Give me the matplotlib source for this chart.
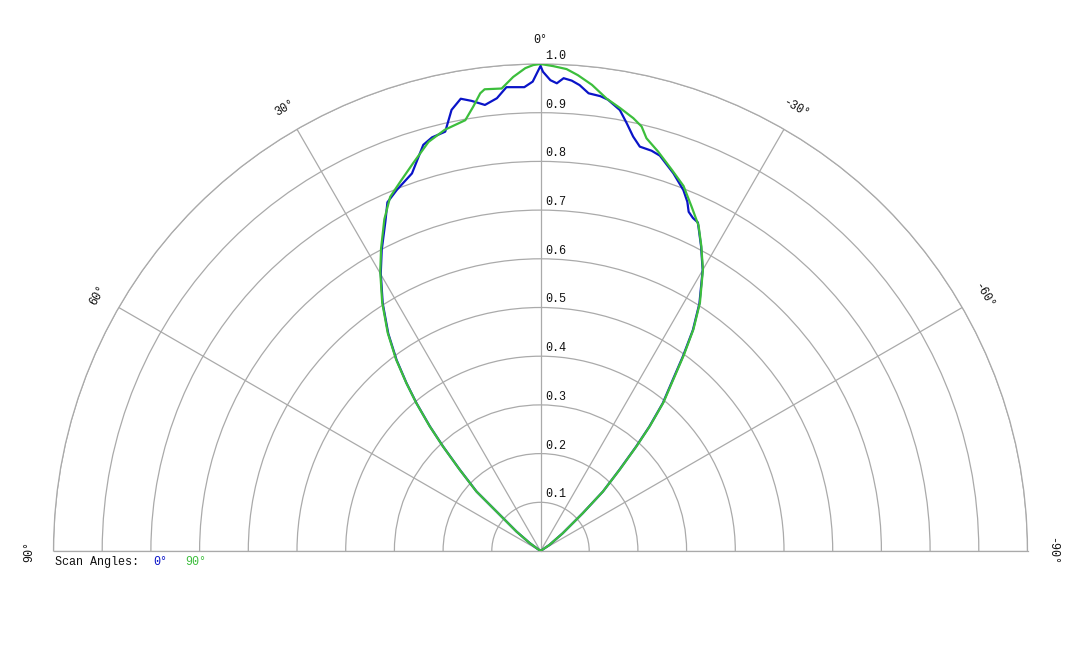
import numpy as np
import matplotlib
matplotlib.use("Agg")
import matplotlib.pyplot as plt

# scan angle 0 deg (blue) - angle in degrees, relative intensity
blue_theta = [-62, -58, -55.7, -51.4, -48.2, -46.4, -44.2, -42.5, -41.2, -39.6, -37.7, -36.2,
              -34.6, -32.7, -30.0, -27.8, -25.6, -24.6, -23.6, -22.8, -21.6, -19.4, -16.8,
              -15.5, -13.8, -12.6, -11.4, -10.2, -8.5, -7.5, -6.0, -4.8, -3.8, -2.8, -2.0,
              -1.2, -0.3, 0.0,
              0.95, 2.0, 4.2, 5.5, 7.1, 8.7, 10.0, 11.4, 12.8, 14.7, 16.1, 18.8, 21.7,
              23.7, 25.2, 27.8, 29.9, 32.5, 35.0, 37.0, 38.6, 40.0, 41.6, 43.0, 44.8,
              47.1, 48.1, 51.0, 53.7, 56.5, 62]
blue_r = [0.0, 0.0, 0.022, 0.058, 0.116, 0.177, 0.232, 0.290, 0.339, 0.394, 0.444, 0.495,
          0.551, 0.604, 0.666, 0.707, 0.748, 0.752, 0.760, 0.778, 0.797, 0.822, 0.848,
          0.853, 0.855, 0.872, 0.896, 0.920, 0.937, 0.942, 0.945, 0.960, 0.968, 0.972,
          0.961, 0.967, 0.984, 0.996,
          0.964, 0.953, 0.955, 0.934, 0.923, 0.935, 0.943, 0.924, 0.883, 0.878, 0.868,
          0.819, 0.798, 0.782, 0.748, 0.699, 0.658, 0.603, 0.545, 0.491, 0.441, 0.396,
          0.342, 0.293, 0.235, 0.179, 0.121, 0.063, 0.027, 0.0, 0.0]

# scan angle 90 deg (green)
green_theta = [-62, -58, -55.7, -51.4, -48.2, -46.4, -44.2, -42.5, -41.2, -39.6, -37.7, -36.2,
               -34.6, -32.7, -30.0, -27.8, -25.9, -23.7, -21.4, -19.0, -16.4, -14.4, -13.4,
               -12.1, -10.2, -8.3, -6.3, -4.5, -3.1, -1.5, 0.0,
               0.85, 1.8, 3.3, 4.8, 6.9, 7.5, 8.6, 9.9, 12.8, 15.3, 18.2, 20.8, 23.0,
               25.2, 27.8, 29.9, 32.5, 35.0, 37.0, 38.6, 40.0, 41.6, 43.0, 44.8,
               47.1, 48.1, 51.0, 53.7, 56.5, 62]
green_r = [0.0, 0.0, 0.022, 0.058, 0.116, 0.177, 0.234, 0.292, 0.341, 0.396, 0.447, 0.498,
           0.553, 0.606, 0.667, 0.708, 0.743, 0.772, 0.805, 0.828, 0.855, 0.875, 0.896,
           0.909, 0.924, 0.939, 0.963, 0.980, 0.991, 0.996, 1.0,
           0.998, 0.992, 0.975, 0.953, 0.955, 0.948, 0.923, 0.898, 0.887, 0.871, 0.838,
           0.811, 0.790, 0.753, 0.702, 0.660, 0.605, 0.547, 0.493, 0.442, 0.397, 0.343,
           0.294, 0.236, 0.180, 0.122, 0.064, 0.028, 0.0, 0.0]

ring_values = [0.1, 0.2, 0.3, 0.4, 0.5, 0.6, 0.7, 0.8, 0.9, 1.0]
angle_ticks = [-90, -60, -30, 0, 30, 60, 90]

font = "Liberation Mono"
grid_col = "#aaaaaa"
text_col = "#111111"
blue = "#0a14c8"
green = "#3cbe3c"

fig = plt.figure(figsize=(10.8, 6.48), dpi=100)
# square box: the half disc sits in the middle half of it
cx, cy, R = 540.5, 648 - 551, 487
ax = fig.add_axes([(cx - R) / 1080, (cy + R / 2 - R) / 648, 2 * R / 1080, 2 * R / 648],
                  projection="polar")
ax.set_theta_zero_location("N")
ax.set_theta_direction(1)
ax.set_thetamin(-90)
ax.set_thetamax(90)
ax.set_ylim(0, 1.0)

ax.plot(np.radians(blue_theta), blue_r, color=blue, lw=1.6, zorder=3,
        solid_joinstyle="round")
ax.plot(np.radians(green_theta), green_r, color=green, lw=1.6, zorder=4,
        solid_joinstyle="round")

# grid
ax.set_rgrids(ring_values, labels=[""] * len(ring_values))
ax.set_thetagrids(angle_ticks, labels=[""] * len(angle_ticks))
ax.grid(True, color=grid_col, lw=0.9)
for s in ["polar", "start", "end", "inner"]:
    ax.spines[s].set_color(grid_col)
    ax.spines[s].set_linewidth(0.9)
ax.tick_params(length=0, colors=grid_col)

# radial labels
for v in ring_values:
    ax.annotate(f"{v:.1f}", xy=(0, v), xytext=(3.5, 1.5), textcoords="offset points",
                ha="left", va="bottom", fontsize=8.5, family=font, color=text_col)

# angle labels
for a in angle_ticks:
    ax.text(np.radians(a), 1.05, f"{a}\u00b0", rotation=a, rotation_mode="anchor",
            ha="center", va="center", fontsize=8.5, family=font, color=text_col,
            clip_on=False)

# legend
fig.text(55 / 1080, 1 - 562 / 648, "Scan Angles:", fontsize=8.5, family=font,
         color=text_col, va="center", ha="left")
fig.text(153 / 1080, 1 - 562 / 648, "0\u00b0", fontsize=8.5, family=font,
         color=blue, va="center", ha="left")
fig.text(185 / 1080, 1 - 562 / 648, "90\u00b0", fontsize=8.5, family=font,
         color=green, va="center", ha="left")

fig.savefig("out.png", dpi=100, facecolor="white")
